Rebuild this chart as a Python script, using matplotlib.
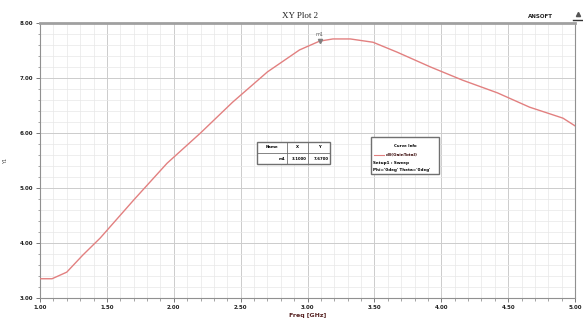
import matplotlib
matplotlib.use("Agg")
import matplotlib.pyplot as plt
from matplotlib.ticker import AutoMinorLocator
from matplotlib.patches import Rectangle
from matplotlib.lines import Line2D

# Data
freq_ghz = [1.00, 1.09, 1.20, 1.32, 1.45, 1.70, 1.95, 2.20, 2.44, 2.70, 2.94,
            3.09, 3.19, 3.32, 3.49, 3.67, 3.92, 4.16, 4.42, 4.66, 4.91, 5.00]
gain_db = [3.35, 3.35, 3.47, 3.78, 4.09, 4.78, 5.45, 6.00, 6.56, 7.11, 7.51,
           7.67, 7.71, 7.71, 7.65, 7.47, 7.20, 6.96, 6.73, 6.47, 6.27, 6.13]
marker_x = 3.09
marker_y = 7.67
x_ticks = [1.0, 1.5, 2.0, 2.5, 3.0, 3.5, 4.0, 4.5, 5.0]
y_ticks = [3.0, 4.0, 5.0, 6.0, 7.0, 8.0]
title = "XY Plot 2"
x_label = "Freq [GHz]"
y_label = "Y1"
table_header = ["Name", "X", "Y"]
table_row = ["m1", "3.1000", "7.6700"]
legend_lines = ["Curve Info", "dB(GainTotal)", "Setup1 : Sweep", "Phi='0deg' Theta='0deg'"]

W, H = 583, 320
fig = plt.figure(figsize=(W / 100, H / 100), dpi=100)
fig.patch.set_facecolor("white")

L, R, T, B = 40, 575, 23, 298
ax = fig.add_axes([L / W, 1 - B / H, (R - L) / W, (B - T) / H])

ax.plot(freq_ghz, gain_db, color="#e28080", lw=1.0, zorder=3)
ax.plot([marker_x], [marker_y], marker="v", ms=3, color="#808080", zorder=4)
ax.text(marker_x, marker_y + 0.08, "m1", fontsize=3.5, color="#606060",
        ha="center", va="bottom", zorder=4)

ax.set_xlim(1.0, 5.0)
ax.set_ylim(3.0, 8.0)
ax.set_xticks(x_ticks)
ax.set_yticks(y_ticks)
ax.set_xticklabels([f"{v:.2f}" for v in x_ticks])
ax.set_yticklabels([f"{v:.2f}" for v in y_ticks])
ax.xaxis.set_minor_locator(AutoMinorLocator(5))
ax.yaxis.set_minor_locator(AutoMinorLocator(5))
ax.grid(which="major", color="#cccccc", lw=0.7)
ax.grid(which="minor", color="#e8e8e8", lw=0.5)
ax.set_axisbelow(True)

ax.tick_params(which="major", direction="out", length=3, width=0.6, colors="#606060",
               labelsize=4, labelcolor="#222222", pad=2)
ax.tick_params(which="minor", direction="out", length=1.8, width=0.5, colors="#808080")
for lab in ax.get_xticklabels() + ax.get_yticklabels():
    lab.set_fontweight("bold")

for side in ["left", "bottom", "right"]:
    ax.spines[side].set_color("#909090")
    ax.spines[side].set_linewidth(0.8)
ax.spines["top"].set_color("#a0a0a0")
ax.spines["top"].set_linewidth(2.0)

ax.set_xlabel(x_label, fontsize=4.5, fontweight="bold", color="#552222", labelpad=2)
ax.set_ylabel(y_label, fontsize=3.5, color="#444444", labelpad=8)

fig.text(300 / W, 1 - 16 / H, title, fontsize=6.5, family="Liberation Serif",
         ha="center", va="center", color="#222222")
fig.text(540 / W, 1 - 16 / H, "ANSOFT", fontsize=4, fontweight="bold",
         ha="center", va="center", color="#222222")
fig.add_artist(Line2D([573 / W, 583 / W], [1 - 20 / H, 1 - 20 / H], color="#333333", lw=1.0))
fig.add_artist(Line2D([578 / W], [1 - 14 / H], marker="^", ms=3, color="#555555"))


def fx(px):
    return px / W


def fy(py):
    return 1 - py / H


# marker table
tx0, tx1, ty0, ty1 = 257, 330, 142, 164
fig.add_artist(Rectangle((fx(tx0), fy(ty1)), fx(tx1) - fx(tx0), fy(ty0) - fy(ty1),
                         transform=fig.transFigure, facecolor="white",
                         edgecolor="#707070", lw=1.0, zorder=10))
cols = [257, 287, 308, 330]
for cx in cols[1:-1]:
    fig.add_artist(Line2D([fx(cx), fx(cx)], [fy(ty0), fy(ty1)], color="#707070", lw=0.6, zorder=11))
fig.add_artist(Line2D([fx(tx0), fx(tx1)], [fy(153), fy(153)], color="#707070", lw=0.6, zorder=11))
for i in range(3):
    cxm = (cols[i] + cols[i + 1]) / 2
    fig.text(fx(cxm), fy(147.5), table_header[i], fontsize=2.8, fontweight="bold",
             ha="center", va="center", zorder=12)
    fig.text(fx(cols[i + 1] - 1.5), fy(158.5), table_row[i], fontsize=2.8, fontweight="bold",
             ha="right", va="center", zorder=12)

# legend box
lx0, lx1, ly0, ly1 = 371, 439, 137, 174
fig.add_artist(Rectangle((fx(lx0), fy(ly1)), fx(lx1) - fx(lx0), fy(ly0) - fy(ly1),
                         transform=fig.transFigure, facecolor="white",
                         edgecolor="#707070", lw=1.0, zorder=10))
fig.text(fx(405), fy(146), legend_lines[0], fontsize=2.8, fontweight="bold",
         ha="center", va="center", zorder=12)
fig.add_artist(Line2D([fx(374), fx(384)], [fy(155), fy(155)], color="#e28080", lw=0.8, zorder=11))
fig.text(fx(386), fy(155), legend_lines[1], fontsize=3, fontweight="bold",
         ha="left", va="center", color="#3a0a0a", zorder=12)
fig.text(fx(373), fy(163), legend_lines[2], fontsize=3, fontweight="bold",
         ha="left", va="center", zorder=12)
fig.text(fx(373), fy(170.5), legend_lines[3], fontsize=3, fontweight="bold",
         ha="left", va="center", zorder=12)

fig.savefig("out.png", dpi=100, facecolor="white")
